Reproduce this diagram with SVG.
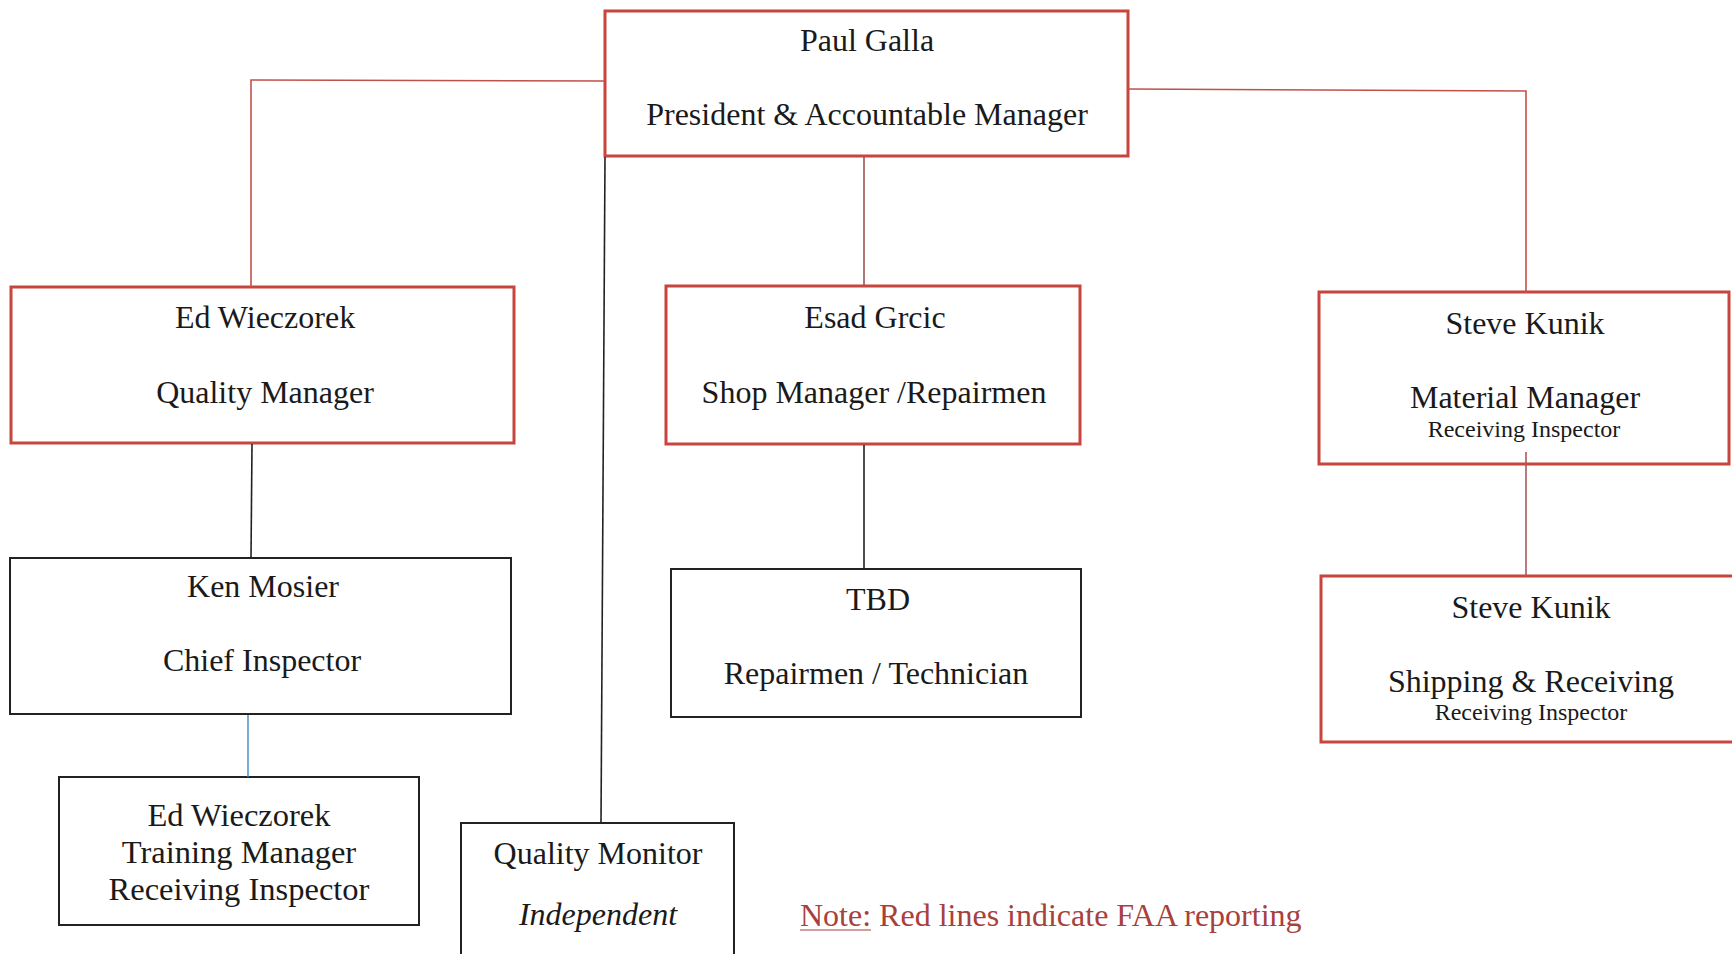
<svg xmlns="http://www.w3.org/2000/svg" width="1732" height="954" viewBox="0 0 1732 954">
<style>
.red{fill:#fff;stroke:#c8453e;stroke-width:3}
.blk{fill:#fff;stroke:#222;stroke-width:2}
.t{font-family:"Liberation Serif","Times New Roman",serif;font-size:32px;fill:#1a1a1a;text-anchor:middle}
.s{font-size:24px}
.tr{font-size:32.5px}
.rl{fill:none;stroke:#c2504a;stroke-width:1.6}
.bl{fill:none;stroke:#222;stroke-width:1.6}
.ul{fill:none;stroke:#3a88c8;stroke-width:1.4}
.note{font-family:"Liberation Serif","Times New Roman",serif;font-size:32px;fill:#a8403c}
</style>
<rect width="1732" height="954" fill="#fff"/>
<g id="paul">
<rect class="red" x="605" y="11" width="523" height="145"/>
<text class="t" x="867" y="51">Paul Galla</text>
<text class="t" x="867" y="125">President &amp; Accountable Manager</text>
</g>
<g id="ed">
<rect class="red" x="11" y="287" width="503" height="156"/>
<text class="t" x="265" y="328">Ed Wieczorek</text>
<text class="t" x="265" y="403">Quality Manager</text>
</g>
<g id="esad">
<rect class="red" x="666" y="286" width="414" height="158"/>
<text class="t" x="875" y="328">Esad Grcic</text>
<text class="t" x="874" y="403">Shop Manager /Repairmen</text>
</g>
<g id="steve1">
<rect class="red" x="1319" y="292" width="410" height="172"/>
<text class="t" x="1525" y="334">Steve Kunik</text>
<text class="t" x="1525" y="408">Material Manager</text>
<text class="t s" x="1524" y="437">Receiving Inspector</text>
</g>
<g id="ken">
<rect class="blk" x="10" y="558" width="501" height="156"/>
<text class="t" x="263" y="597">Ken Mosier</text>
<text class="t" x="262" y="671">Chief Inspector</text>
</g>
<g id="tbd">
<rect class="blk" x="671" y="569" width="410" height="148"/>
<text class="t" x="878" y="610">TBD</text>
<text class="t" x="876" y="684">Repairmen / Technician</text>
</g>
<g id="steve2">
<rect class="red" x="1321" y="576" width="420" height="166"/>
<text class="t" x="1531" y="618">Steve Kunik</text>
<text class="t" x="1531" y="692">Shipping &amp; Receiving</text>
<text class="t s" x="1531" y="720">Receiving Inspector</text>
</g>
<g id="training">
<rect class="blk" x="59" y="777" width="360" height="148"/>
<text class="t tr" x="239" y="826">Ed Wieczorek</text>
<text class="t tr" x="239" y="863">Training Manager</text>
<text class="t tr" x="239" y="900">Receiving Inspector</text>
</g>
<g id="qm">
<rect class="blk" x="461" y="823" width="273" height="140"/>
<text class="t" x="598" y="864">Quality Monitor</text>
<text class="t" x="598" y="925" font-style="italic">Independent</text>
</g>
<g id="connectors">
<polyline class="rl" points="605,81 251,80 251,287"/>
<polyline class="rl" points="1129,89 1526,91 1526,292"/>
<line class="rl" x1="864" y1="157" x2="864" y2="286" style="stroke:#9a5652"/>
<line class="bl" x1="605" y1="157" x2="601" y2="823"/>
<line class="bl" x1="252" y1="444" x2="251" y2="558"/>
<line class="ul" x1="248" y1="715" x2="248" y2="777"/>
<line class="bl" x1="864" y1="445" x2="864" y2="569"/>
<line class="rl" x1="1526" y1="452" x2="1526" y2="576" style="stroke:#a85a55"/>
</g>
<g id="note">
<text class="note" x="800" y="926">Note: Red lines indicate FAA reporting</text>
<line x1="800" y1="930" x2="871" y2="930" stroke="#a8403c" stroke-width="1.2"/>
</g>
</svg>
